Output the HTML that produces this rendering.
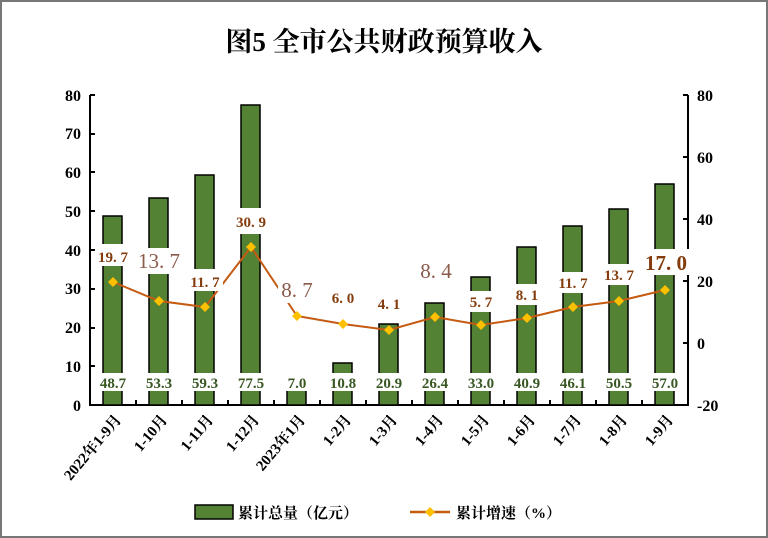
<!DOCTYPE html>
<html><head><meta charset="utf-8"><style>
html,body{margin:0;padding:0;background:#fff}
svg{display:block}
</style></head><body>
<svg width="768" height="538" viewBox="0 0 768 538" xmlns="http://www.w3.org/2000/svg">
<rect x="1" y="1" width="766" height="536" fill="#fff" stroke="#777" stroke-width="2"/>
<text x="384" y="51" text-anchor="middle" font-family="Liberation Serif, 'Noto Serif CJK SC', serif" font-weight="bold" font-size="27" fill="#000">图5  全市公共财政预算收入</text>
<g font-family="Liberation Serif, serif" font-size="16" font-weight="bold" fill="#000">
<text x="81" y="411" text-anchor="end">0</text>
<text x="81" y="372" text-anchor="end">10</text>
<text x="81" y="333" text-anchor="end">20</text>
<text x="81" y="294" text-anchor="end">30</text>
<text x="81" y="256" text-anchor="end">40</text>
<text x="81" y="217" text-anchor="end">50</text>
<text x="81" y="178" text-anchor="end">60</text>
<text x="81" y="139" text-anchor="end">70</text>
<text x="81" y="101" text-anchor="end">80</text>
<text x="697" y="411">-20</text>
<text x="697" y="349">0</text>
<text x="697" y="287">20</text>
<text x="697" y="225">40</text>
<text x="697" y="163">60</text>
<text x="697" y="101">80</text>
</g>
<g stroke="#000" stroke-width="2" fill="none">
<path d="M90 95 V405 H688 V95"/>
<path d="M90 95h5M90 134h5M90 172h5M90 211h5M90 250h5M90 289h5M90 328h5M90 366h5"/>
<path d="M688 95h-5M688 157h-5M688 219h-5M688 281h-5M688 343h-5"/>
<path d="M136 405v-5M182 405v-5M228 405v-5M274 405v-5M320 405v-5M366 405v-5M412 405v-5M458 405v-5M504 405v-5M550 405v-5M596 405v-5M642 405v-5"/>
</g>
<g fill="#548235" stroke="#000" stroke-width="1.5">
<rect x="103" y="216" width="19" height="189"/>
<rect x="149" y="198" width="19" height="207"/>
<rect x="195" y="175" width="19" height="230"/>
<rect x="241" y="105" width="19" height="300"/>
<rect x="287" y="378" width="19" height="27"/>
<rect x="333" y="363" width="19" height="42"/>
<rect x="379" y="324" width="19" height="81"/>
<rect x="425" y="303" width="19" height="102"/>
<rect x="471" y="277" width="19" height="128"/>
<rect x="517" y="247" width="19" height="158"/>
<rect x="563" y="226" width="19" height="179"/>
<rect x="609" y="209" width="19" height="196"/>
<rect x="655" y="184" width="19" height="221"/>
</g>
<polyline fill="none" stroke="#c55a11" stroke-width="2" points="113,282 159,301 205,307 251,247 297,316 343,324 389,330 435,317 481,325 527,318 573,307 619,301 665,290"/>
<g fill="#ffc000">
<path d="M113 277l5 5-5 5-5-5z M159 296l5 5-5 5-5-5z M205 302l5 5-5 5-5-5z M251 242l5 5-5 5-5-5z M297 311l5 5-5 5-5-5z M343 319l5 5-5 5-5-5z M389 325l5 5-5 5-5-5z M435 312l5 5-5 5-5-5z M481 320l5 5-5 5-5-5z M527 313l5 5-5 5-5-5z M573 302l5 5-5 5-5-5z M619 296l5 5-5 5-5-5z M665 285l5 5-5 5-5-5z"/>
</g>
<g font-family="Liberation Serif, serif" font-size="15" font-weight="bold" fill="#843c0c" text-anchor="middle">
<rect x="95" y="244" width="36" height="22" fill="#fff"/><text x="113" y="262">19. 7</text>
<rect x="135" y="248" width="48" height="26" fill="#fff"/><text x="159" y="268" font-size="21" font-weight="normal" fill="#8a5a4a">13. 7</text>
<rect x="187" y="269" width="36" height="22" fill="#fff"/><text x="205" y="287">11. 7</text>
<rect x="233" y="208" width="36" height="26" fill="#fff"/><text x="251" y="227">30. 9</text>
<rect x="278" y="277" width="40" height="26" fill="#fff"/><text x="297" y="297" font-size="21" font-weight="normal" fill="#8a5a4a">8. 7</text>
<rect x="327" y="287" width="32" height="20" fill="#fff"/><text x="343" y="303">6. 0</text>
<rect x="373" y="293" width="32" height="20" fill="#fff"/><text x="389" y="309">4. 1</text>
<rect x="416" y="258" width="40" height="26" fill="#fff"/><text x="436" y="278" font-size="21" font-weight="normal" fill="#8a5a4a">8. 4</text>
<rect x="465" y="291" width="32" height="21" fill="#fff"/><text x="481" y="307">5. 7</text>
<rect x="511" y="284" width="32" height="21" fill="#fff"/><text x="527" y="300">8. 1</text>
<rect x="554" y="272" width="38" height="21" fill="#fff"/><text x="573" y="288">11. 7</text>
<rect x="600" y="264" width="38" height="21" fill="#fff"/><text x="619" y="280">13. 7</text>
<rect x="643" y="249" width="46" height="26" fill="#fff"/><text x="666" y="270" font-size="21" fill="#843c0c">17. 0</text>
</g>
<g font-family="Liberation Serif, serif" font-size="15" font-weight="bold" fill="#385723" text-anchor="middle">
<rect x="95" y="373" width="37" height="18" fill="#fff"/><text x="113" y="388">48.7</text>
<rect x="141" y="373" width="37" height="18" fill="#fff"/><text x="159" y="388">53.3</text>
<rect x="187" y="373" width="37" height="18" fill="#fff"/><text x="205" y="388">59.3</text>
<rect x="233" y="373" width="37" height="18" fill="#fff"/><text x="251" y="388">77.5</text>
<rect x="283" y="373" width="29" height="18" fill="#fff"/><text x="297" y="388">7.0</text>
<rect x="325" y="373" width="37" height="18" fill="#fff"/><text x="343" y="388">10.8</text>
<rect x="371" y="373" width="37" height="18" fill="#fff"/><text x="389" y="388">20.9</text>
<rect x="417" y="373" width="37" height="18" fill="#fff"/><text x="435" y="388">26.4</text>
<rect x="463" y="373" width="37" height="18" fill="#fff"/><text x="481" y="388">33.0</text>
<rect x="509" y="373" width="37" height="18" fill="#fff"/><text x="527" y="388">40.9</text>
<rect x="555" y="373" width="37" height="18" fill="#fff"/><text x="573" y="388">46.1</text>
<rect x="601" y="373" width="37" height="18" fill="#fff"/><text x="619" y="388">50.5</text>
<rect x="647" y="373" width="37" height="18" fill="#fff"/><text x="665" y="388">57.0</text>
</g>
<g font-family="Liberation Serif, 'Noto Serif CJK SC', serif" font-size="15" font-weight="bold" fill="#000" text-anchor="end">
<text transform="translate(122,420) rotate(-50)">2022年1-9月</text>
<text transform="translate(168,420) rotate(-50)">1-10月</text>
<text transform="translate(214,420) rotate(-50)">1-11月</text>
<text transform="translate(260,420) rotate(-50)">1-12月</text>
<text transform="translate(306,420) rotate(-50)">2023年1月</text>
<text transform="translate(352,420) rotate(-50)">1-2月</text>
<text transform="translate(398,420) rotate(-50)">1-3月</text>
<text transform="translate(444,420) rotate(-50)">1-4月</text>
<text transform="translate(490,420) rotate(-50)">1-5月</text>
<text transform="translate(536,420) rotate(-50)">1-6月</text>
<text transform="translate(582,420) rotate(-50)">1-7月</text>
<text transform="translate(628,420) rotate(-50)">1-8月</text>
<text transform="translate(674,420) rotate(-50)">1-9月</text>
</g>
<rect x="195" y="505" width="38" height="14" fill="#548235" stroke="#000" stroke-width="1.5"/>
<text x="238" y="518" font-family="Liberation Serif, 'Noto Serif CJK SC', serif" font-size="15" font-weight="bold">累计总量（亿元）</text>
<line x1="410" y1="512" x2="450" y2="512" stroke="#c55a11" stroke-width="2.5"/>
<path d="M430 507l5 5-5 5-5-5z" fill="#ffc000"/>
<text x="456" y="518" font-family="Liberation Serif, 'Noto Serif CJK SC', serif" font-size="15" font-weight="bold">累计增速（%）</text>
</svg>
</body></html>
